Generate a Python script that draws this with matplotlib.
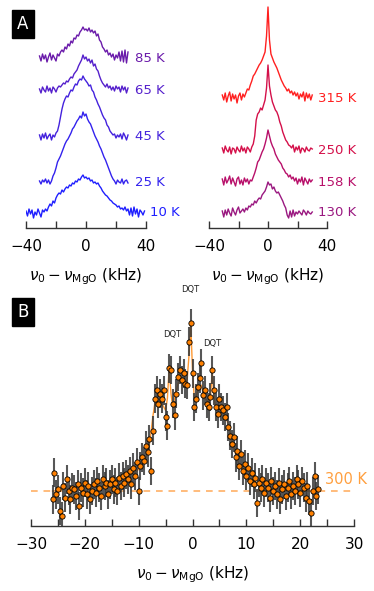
import numpy as np
import matplotlib
matplotlib.use('Agg')
import matplotlib.pyplot as plt

# ---- panel A: spectra vs temperature (heights above each baseline) ----
x_left = np.arange(-31, 29)      # kHz
x_10k = np.arange(-40, 40)
x_right = np.arange(-31, 31)

low_labels = ['10 K', '25 K', '45 K', '65 K', '85 K']
low_colors = ['#1f1fff', '#3322ee', '#4422dd', '#5520cc', '#6a1aaa']
low_offsets = [15, 46, 91, 138, 170]

s10 = [2, -3, 4, -1, 3, -5, 1, -2, 4, 0, -4, 3, 1,
       4, 2, 6, 9, 7, 12, 10, 15, 18,
       20, 19, 23, 21, 24, 26, 25, 28, 27, 30, 29, 32, 31, 34, 33, 36, 38, 35,
       36, 34, 35, 32, 33, 30, 31, 29, 30, 27, 25, 22, 20, 18, 17,
       15, 13, 12, 10, 9, 8, 6, 7, 4, 5, 3, 6, 2, 4, -2, 5, -3, 6, -1, 4, -4, 3, 1, -2, 2]
s25 = [1, -2, 2, 0, 3, -1, 2, -2, 1,
       6, 9, 14, 20, 23, 26, 30, 34, 38, 41, 43, 46, 49, 53, 55, 58, 61, 63, 66, 64, 70, 66,
       68, 63, 60, 58, 54, 50, 46, 43, 40, 36, 33, 29, 25,
       22, 18, 14, 10, 6, 3, 1, -2, 2, 0, -1, 3, -2, 1, 2, -1]
s45 = [2, -3, 3, -1, 4, -2, 1, 3, -3, 2, 0, 4,
       6, 12, 20, 28, 34, 38, 41, 40, 44, 47, 46, 50, 53, 52, 56, 58, 57, 61, 58,
       56, 54, 51, 52, 47, 45, 40, 37, 33, 30, 26, 22, 19,
       17, 12, 10, 6, 4, 2, 3, -1, 2, 0, 3, -2, 4, 1, -3, 2]
s65 = [1, -3, 3, 0, -2, 4, -1, 2, -3, 3, 1, -2, 2, 4, 3,
       5, 7, 6, 9, 8, 11, 13, 12, 16, 18, 20, 24, 27, 30, 35, 31,
       33, 29, 31, 27, 30, 24, 26, 21, 19, 14, 10, 7, 5,
       3, 6, 2, 4, 0, 3, -1, 4, 1, 3, -2, 4, 0, 3, -3, 2]
s85 = [2, -3, 4, -1, 3, -4, 1, 5, -2, 3, 0, -3, 4, 2, 6,
       8, 6, 11, 9, 14, 12, 17, 15, 20, 19, 23, 22, 26, 28, 31, 28,
       29, 27, 30, 26, 28, 25, 27, 22, 24, 18, 16, 11, 9,
       6, 8, 3, 5, 1, 4, -2, 3, 0, 6, -3, 7, -4, 8, -5, 6]

high_labels = ['130 K', '158 K', '250 K', '315 K']
high_colors = ['#9a1880', '#b8106a', '#d4104a', '#ff2020']
high_offsets = [15, 46, 78, 130]

s130 = [2, -4, 3, -2, 4, 0, -3, 5, 1, -2, 3, 6, 0, 2, 4, 1,
        5, 3, 7, 6, 9, 8, 12, 10, 13, 15, 14, 18, 20, 22, 26,
        31,
        28, 29, 24, 26, 22, 20, 21, 18, 15, 12, 8, 5, -2, -5, 2, -4, 3, -3, 1, -1,
        2, 0, -2, 3, 1, -2, 2, 0, -1, 1]
s158 = [3, -3, 5, -1, 2, 6, -2, 4, 0, -4, 3, 5, -2, 2, -3, 4, 0, 3, -2, 2, 1,
        5, 9, 14, 20, 22, 26, 30, 33, 38, 44,
        52,
        46, 40, 36, 33, 28, 25, 22, 20, 18, 14, 12, 9, 8, 5, 7, 3, 5, 1, 4, -2,
        3, 0, 5, -3, 4, 1, -2, 3, 0, 2]
s250 = [2, -3, 4, 0, -2, 3, -4, 2, 1, -3, 3, 0, -2, 4, -1, 2, -3, 3, 1, -2, 3,
        6, 14, 30, 36, 38, 42, 40, 45, 50, 62,
        85,
        64, 55, 48, 44, 40, 38, 34, 28, 24, 18, 14, 10, 8, 5, 4, 2, 5, -2, 3, 0,
        4, -3, 2, 1, -2, 3, 0, -1, 2, 1]
s315 = [3, -2, 5, -4, 2, 6, -3, 4, -1, 3, -5, 2, 5, -2, 4, 1,
        5, 9, 8, 13, 17, 22, 24, 27, 30, 33, 35, 38, 42, 46, 62,
        91,
        58, 44, 40, 36, 33, 30, 26, 22, 18, 15, 12, 10, 7, 9, 5, 7, 3, 6, 2, 5,
        -1, 4, 1, 6, -3, 5, 0, 4, -2, 3]

# ---- panel B: 300 K spectrum with fit ----
xb = -26 + np.arange(149) / 3.0
yb = [-0.05, 0.11, -0.02, 0.01, -0.12, -0.15, 0.03, -0.04, 0.07, 0.0,
      -0.05, 0.02, 0.01, -0.03, 0.04, -0.09, 0.02, -0.01, 0.05, -0.02,
      0.03, -0.05, 0.0, 0.04, -0.01, 0.06, 0.02, -0.03, 0.07, 0.03,
      0.05, -0.02, 0.04, 0.07, 0.01, 0.05, 0.0, 0.08, 0.03, 0.09,
      0.05, 0.1, 0.07, 0.12, 0.04, 0.14, 0.09, 0.17, 0.0, 0.15,
      0.2, 0.18, 0.27, 0.23, 0.31, 0.12, 0.36, 0.55, 0.6, 0.52,
      0.58, 0.55, 0.6, 0.44, 0.39, 0.73, 0.72, 0.52, 0.45, 0.58,
      0.68, 0.72, 0.66, 0.7, 0.64, 0.63, 0.89, 1.0, 0.7, 0.5,
      0.55, 0.62, 0.67, 0.76, 0.57, 0.6, 0.52, 0.5, 0.56, 0.72,
      0.6, 0.5, 0.46, 0.55, 0.5, 0.48, 0.44, 0.5, 0.38, 0.33,
      0.28, 0.32, 0.2, 0.24, 0.15, 0.22, 0.12, 0.16, 0.09, 0.14,
      0.06, 0.11, 0.04, 0.08, -0.07, 0.05, 0.02, 0.07, -0.01, 0.05,
      0.02, -0.04, 0.06, 0.0, 0.03, -0.02, 0.05, -0.05, 0.01, 0.04,
      -0.03, 0.02, 0.06, -0.02, 0.03, 0.0, 0.07, 0.04, -0.01, 0.06,
      0.02, -0.04, 0.03, -0.06, -0.13, 0.0, 0.09, -0.03, 0.01]
fit_b = [0.0, 0.0, 0.005, 0.005, 0.01, 0.01, 0.01, 0.015, 0.015, 0.015,
         0.02, 0.02, 0.02, 0.025, 0.025, 0.025, 0.03, 0.03, 0.03, 0.035,
         0.035, 0.035, 0.04, 0.04, 0.04, 0.045, 0.045, 0.045, 0.05, 0.05,
         0.05, 0.055, 0.055, 0.06, 0.06, 0.065, 0.065, 0.07, 0.07, 0.075,
         0.08, 0.085, 0.09, 0.095, 0.1, 0.105, 0.11, 0.12, 0.13, 0.14,
         0.16, 0.18, 0.2, 0.23, 0.28, 0.36, 0.45, 0.52, 0.55, 0.55,
         0.54, 0.52, 0.5, 0.48, 0.55, 0.73, 0.58, 0.5, 0.55, 0.6,
         0.64, 0.66, 0.67, 0.66, 0.65, 0.66, 0.8, 1.0, 0.72, 0.55,
         0.56, 0.6, 0.62, 0.63, 0.58, 0.55, 0.54, 0.53, 0.56, 0.71,
         0.55, 0.5, 0.49, 0.49, 0.48, 0.47, 0.45, 0.43, 0.39, 0.35,
         0.3, 0.26, 0.22, 0.19, 0.16, 0.14, 0.12, 0.1, 0.085, 0.075,
         0.065, 0.055, 0.045, 0.04, 0.035, 0.03, 0.025, 0.02, 0.018, 0.016,
         0.014, 0.012, 0.01, 0.01, 0.008, 0.008, 0.006, 0.006, 0.005, 0.005,
         0.004, 0.004, 0.003, 0.003, 0.003, 0.002, 0.002, 0.002, 0.002, 0.001,
         0.001, 0.001, 0.001, 0.001, 0.0, 0.0, 0.0, 0.0, 0.0]
err_b = 0.085

W, H = 374, 591
fig = plt.figure(figsize=(W / 100, H / 100), dpi=100)
xlab = r'$\nu_0 - \nu_{\mathrm{MgO}}$ (kHz)'
spine_col = '#333333'


def px_axes(x0, x1, ytop, ybot):
    return fig.add_axes([x0 / W, 1 - ybot / H, (x1 - x0) / W, (ybot - ytop) / H])


def style(ax):
    for s in ['top', 'right', 'left']:
        ax.spines[s].set_visible(False)
    ax.spines['bottom'].set_color(spine_col)
    ax.spines['bottom'].set_linewidth(1.0)
    ax.set_yticks([])
    ax.tick_params(axis='x', which='both', direction='in', length=5,
                   width=1.0, color=spine_col, labelsize=11, pad=8)
    ax.patch.set_alpha(0)


# left top panel
ax1 = px_axes(26, 146, 5, 228)
traces = [(x_10k, s10), (x_left, s25), (x_left, s45), (x_left, s65), (x_left, s85)]
for (xx, ss), lab, c, off in zip(traces, low_labels, low_colors, low_offsets):
    ax1.plot(xx, np.array(ss) + off, color=c, lw=1.0)
    tx = 42.7 if lab == '10 K' else 32.7
    ax1.text(tx, off, lab, color=c, fontsize=9.5, va='center', ha='left', clip_on=False)
ax1.set_xlim(-40, 40)
ax1.set_ylim(0, 223)
ax1.set_xticks([-40, 0, 40])
ax1.set_xticks([-20, 20], minor=True)
ax1.set_xlabel(xlab, fontsize=11, labelpad=9)
style(ax1)

# right top panel
ax2 = px_axes(209, 327, 5, 228)
for ss, lab, c, off in zip([s130, s158, s250, s315], high_labels, high_colors, high_offsets):
    ax2.plot(x_right, np.array(ss) + off, color=c, lw=1.0)
    ax2.text(33.9, off, lab, color=c, fontsize=9.5, va='center', ha='left', clip_on=False)
ax2.set_xlim(-40, 40)
ax2.set_ylim(0, 223)
ax2.set_xticks([-40, 0, 40])
ax2.set_xticks([-20, 20], minor=True)
ax2.set_xlabel(xlab, fontsize=11, labelpad=9)
style(ax2)

# bottom panel
ax3 = px_axes(31, 354, 300, 526)
ax3.axhline(0, color='#ffb066', lw=1.2, ls=(0, (4, 3.5)), zorder=1)
ax3.plot(xb, fit_b, color='#ff9933', lw=1.0, zorder=2)
ax3.errorbar(xb, yb, yerr=err_b, fmt='none', ecolor='#3a3a3a', elinewidth=1.5,
             alpha=0.85, zorder=3)
ax3.plot(xb, yb, 'o', ms=3.8, mfc='#ff8000', mec='black', mew=0.6, zorder=4)
ax3.text(24.6, 0.07, '300 K', color='#ffa040', fontsize=10.5, va='center', ha='left',
         clip_on=False)
ax3.text(-3.8, 0.93, 'DQT', fontsize=6, ha='center', va='center', color='#222222')
ax3.text(-0.45, 1.2, 'DQT', fontsize=6, ha='center', va='center', color='#222222',
         clip_on=False)
ax3.text(3.6, 0.88, 'DQT', fontsize=6, ha='center', va='center', color='#222222')
ax3.set_xlim(-30, 30)
ax3.set_ylim(-0.208, 1.137)
ax3.set_xticks([-30, -20, -10, 0, 10, 20, 30])
ax3.set_xticks([-25, -15, -5, 5, 15, 25], minor=True)
ax3.set_xlabel(xlab, fontsize=11, labelpad=9)
style(ax3)

# panel letters
for lab, x, y in [('A', 23, 24), ('B', 23, 312)]:
    fig.text(x / W, 1 - y / H, lab, color='white', fontsize=12, ha='center', va='center',
             bbox=dict(boxstyle='square,pad=0.3', fc='black', ec='black'))

fig.savefig('out.png', dpi=100)
